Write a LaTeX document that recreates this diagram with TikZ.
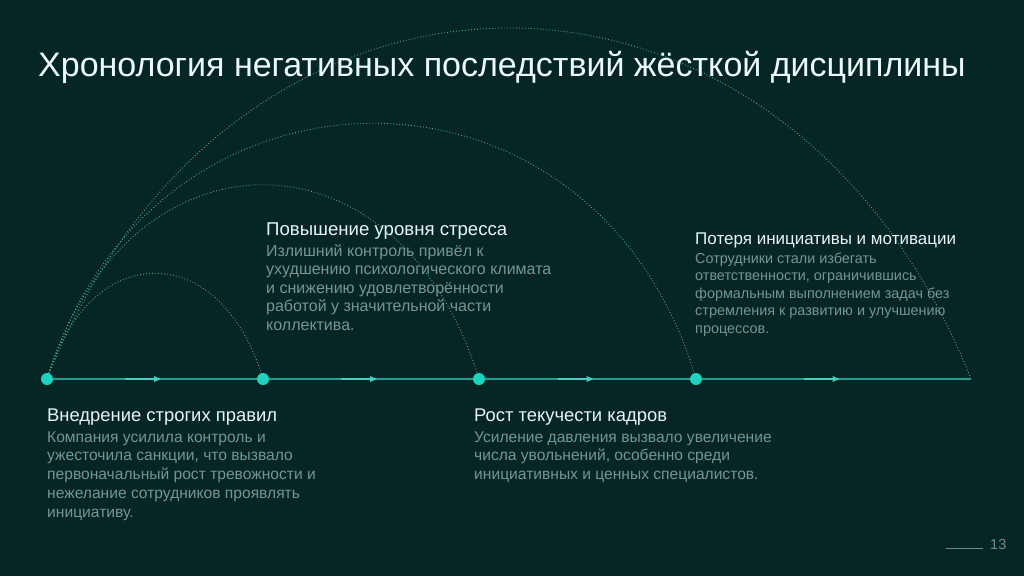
\documentclass[tikz,border=0pt]{standalone}
\usepackage{fontspec}
\setmainfont{Liberation Sans}
\usetikzlibrary{calc}
\definecolor{bg}{RGB}{6,38,38}
\definecolor{titlec}{RGB}{236,248,248}
\definecolor{headc}{RGB}{232,244,244}
\definecolor{bodyc}{RGB}{120,148,145}
\definecolor{linec}{RGB}{36,158,142}
\definecolor{linehi}{RGB}{70,205,188}
\definecolor{dotc}{RGB}{30,210,192}
\definecolor{arcc}{RGB}{80,162,152}
\definecolor{pagec}{RGB}{110,140,137}
\newcommand\firstln{\rule{0pt}{13pt}}
\tikzset{
  tl/.style={draw=linec, line width=1.6pt},
  tlhi/.style={draw=linehi, line width=1.6pt},
  tip/.style={fill=linehi},
  arcdot/.style={draw=arcc, line width=0.9pt, dash pattern=on 0.9pt off 2.1pt},
  evdot/.style={circle, fill=dotc, minimum size=12pt, inner sep=0pt},
  titletxt/.style={anchor=base west, inner sep=0pt, text=titlec, font=\fontsize{34}{40}\selectfont},
  headtxt/.style={anchor=base west, inner sep=0pt, text=headc, font=\fontsize{18.4}{22}\selectfont},
  bodytxt/.style={anchor=north west, inner sep=0pt, text=bodyc, align=left},
  pagetxt/.style={anchor=base west, inner sep=0pt, text=pagec, font=\fontsize{14.5}{17}\selectfont}
}
\begin{document}
\begin{tikzpicture}[x=1pt,y=-1pt]
\fill[bg] (0,0) rectangle (1024,576);
\useasboundingbox (0,0) rectangle (1024,576);

\coordinate (p1) at (47,379);
\coordinate (p2) at (263,379);
\coordinate (p3) at (479,379);
\coordinate (p4) at (696,379);
\coordinate (p5) at (971,379);

% dotted arcs
\draw[arcdot] (p1) .. controls ($(p1)+(42,-141)$) and ($(p2)+(-42,-141)$) .. (p2);
\draw[arcdot] (p1) .. controls ($(p1)+(80,-259)$) and ($(p3)+(-80,-259)$) .. (p3);
\draw[arcdot] (p1) .. controls ($(p1)+(105,-341)$) and ($(p4)+(-100,-341)$) .. (p4);
\draw[arcdot] (p1) .. controls ($(p1)+(186,-468)$) and ($(p5)+(-186,-468)$) .. (p5);

% timeline
\draw[tl] (p1) -- (p5);
\foreach \a/\b in {p1/p2,p2/p3,p3/p4,p4/p5}{
  \coordinate (m) at ($(\a)!0.5!(\b)+(4,0)$);
  \draw[tlhi] ($(m)+(-34,0)$) -- (m);
  \fill[tip] ($(m)+(-5,-3)$) -- ($(m)+(2,0)$) -- ($(m)+(-5,3)$) -- cycle;
}

% event dots
\node[evdot] (n1) at (p1) {};
\node[evdot] (n2) at (p2) {};
\node[evdot] (n3) at (p3) {};
\node[evdot] (n4) at (p4) {};

% title
\node[titletxt] (title) at (38,76) {Хронология негативных последствий жёсткой дисциплины};

% texts
\node[headtxt] (h1) at (47,421) {Внедрение строгих правил};
\node[bodytxt, font=\fontsize{15.6}{18.7}\selectfont] (b1) at (47,429) {\firstln Компания усилила контроль и\\ужесточила санкции, что вызвало\\первоначальный рост тревожности и\\нежелание сотрудников проявлять\\инициативу.};

\node[headtxt, font=\fontsize{18.6}{22}\selectfont] (h2) at (266,235) {Повышение уровня стресса};
\node[bodytxt, font=\fontsize{16}{18.5}\selectfont] (b2) at (266,243) {\firstln Излишний контроль привёл к\\ухудшению психологического климата\\и снижению удовлетворённости\\работой у значительной части\\коллектива.};

\node[headtxt] (h3) at (474,421) {Рост текучести кадров};
\node[bodytxt, font=\fontsize{15.6}{18.7}\selectfont] (b3) at (474,429) {\firstln Усиление давления вызвало увеличение\\числа увольнений, особенно среди\\инициативных и ценных специалистов.};

\node[headtxt, font=\fontsize{17}{21}\selectfont] (h4) at (695,244) {Потеря инициативы и мотивации};
\node[bodytxt, font=\fontsize{14.4}{17.5}\selectfont] (b4) at (695,250) {\firstln Сотрудники стали избегать\\ответственности, ограничившись\\формальным выполнением задач без\\стремления к развитию и улучшению\\процессов.};

% page number
\coordinate (pl1) at (946,548);
\coordinate (pl2) at (983,548);
\draw[draw=pagec, line width=0.8pt] (pl1) -- (pl2);
\node[pagetxt] (pg) at (990,549) {13};
\end{tikzpicture}
\end{document}
